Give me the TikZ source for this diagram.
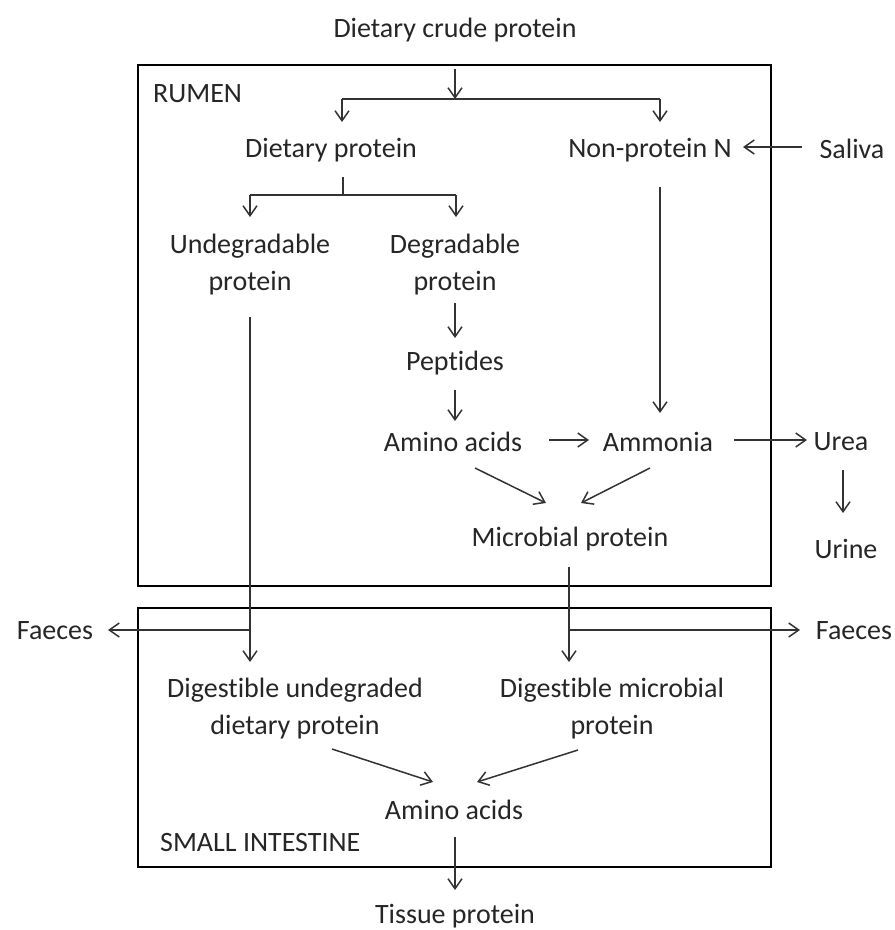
\documentclass[tikz,border=0pt]{standalone}
\usepackage{fontspec}
\setmainfont{Carlito}[Ligatures={NoCommon}]
\usetikzlibrary{arrows.meta}
\definecolor{txt}{HTML}{262626}
\definecolor{ln}{HTML}{333333}
\tikzset{
  lbl/.style={text=txt, inner sep=0pt, align=center, font=\fontsize{28}{37}\selectfont},
  arr/.style={draw=ln, line width=1.5pt, -{Straight Barb[length=10pt,width=14pt,line width=1.5pt]}},
  plain/.style={draw=ln, line width=1.5pt},
  region/.style={draw=black, line width=2.6pt}
}
\begin{document}
\begin{tikzpicture}[x=1pt,y=-1pt]
\useasboundingbox (0,0) rectangle (895,930);
% boxes
\draw[region] (138,65) rectangle (771,586);
\draw[region] (138,608) rectangle (771,867);
% labels
\node[lbl] (dcp) at (455,30) {Dietary crude protein};
\node[lbl, anchor=west] (rumen) at (153,94) {RUMEN};
\node[lbl] (dp) at (331,150) {Dietary protein};
\node[lbl] (npn) at (650,150) {Non-protein N};
\node[lbl] (saliva) at (852,149) {Saliva};
\node[lbl] (undeg) at (250,265) {Undegradable\\protein};
\node[lbl] (deg) at (455,265) {Degradable\\protein};
\node[lbl] (pept) at (455,363) {Peptides};
\node[lbl] (aa1) at (453,442) {Amino acids};
\node[lbl] (amm) at (658,442) {Ammonia};
\node[lbl] (urea) at (841,442) {Urea};
\node[lbl] (urine) at (846,549) {Urine};
\node[lbl] (mp) at (570,539) {Microbial protein};
\node[lbl] (faecesL) at (55,631) {Faeces};
\node[lbl] (faecesR) at (854,631) {Faeces};
\node[lbl] (dud) at (295,709) {Digestible undegraded\\dietary protein};
\node[lbl] (dmp) at (612,709) {Digestible microbial\\protein};
\node[lbl] (aa2) at (454,810) {Amino acids};
\node[lbl, anchor=west] (si) at (160,843) {SMALL INTESTINE};
\node[lbl] (tp) at (455,916) {Tissue protein};
% junction coordinates
\coordinate (j1) at (455,99);
\coordinate (j1l) at (342,99);
\coordinate (j1r) at (660,99);
\coordinate (j2) at (343,195);
\coordinate (j2l) at (250,195);
\coordinate (j2r) at (456,195);
\coordinate (fl) at (250,630);
\coordinate (fr) at (569,630);
% connectors
\draw[arr] (455,69) -- (j1);
\draw[plain] (j1l) -- (j1r);
\draw[arr] (j1l) -- (342,122);
\draw[arr] (j1r) -- (660,122);
\draw[arr] (802,147) -- (743,147);
\draw[plain] (343,177) -- (j2);
\draw[plain] (j2l) -- (j2r);
\draw[arr] (j2l) -- (250,217);
\draw[arr] (j2r) -- (456,217);
\draw[arr] (250,317) -- (250,662);
\draw[arr] (fl) -- (108,630);
\draw[arr] (455,303) -- (455,338);
\draw[arr] (455,390) -- (455,421);
\draw[arr] (549,440) -- (589,440);
\draw[arr] (660,187) -- (660,413);
\draw[arr] (734,440) -- (807,440);
\draw[arr] (843,470) -- (843,513);
\draw[arr] (475,468) -- (546,503);
\draw[arr] (650,468) -- (581,503);
\draw[arr] (569,567) -- (569,662);
\draw[arr] (fr) -- (800,630);
\draw[arr] (332,749) -- (433,782);
\draw[arr] (578,750) -- (477,782);
\draw[arr] (455,837) -- (455,890);
\end{tikzpicture}
\end{document}
